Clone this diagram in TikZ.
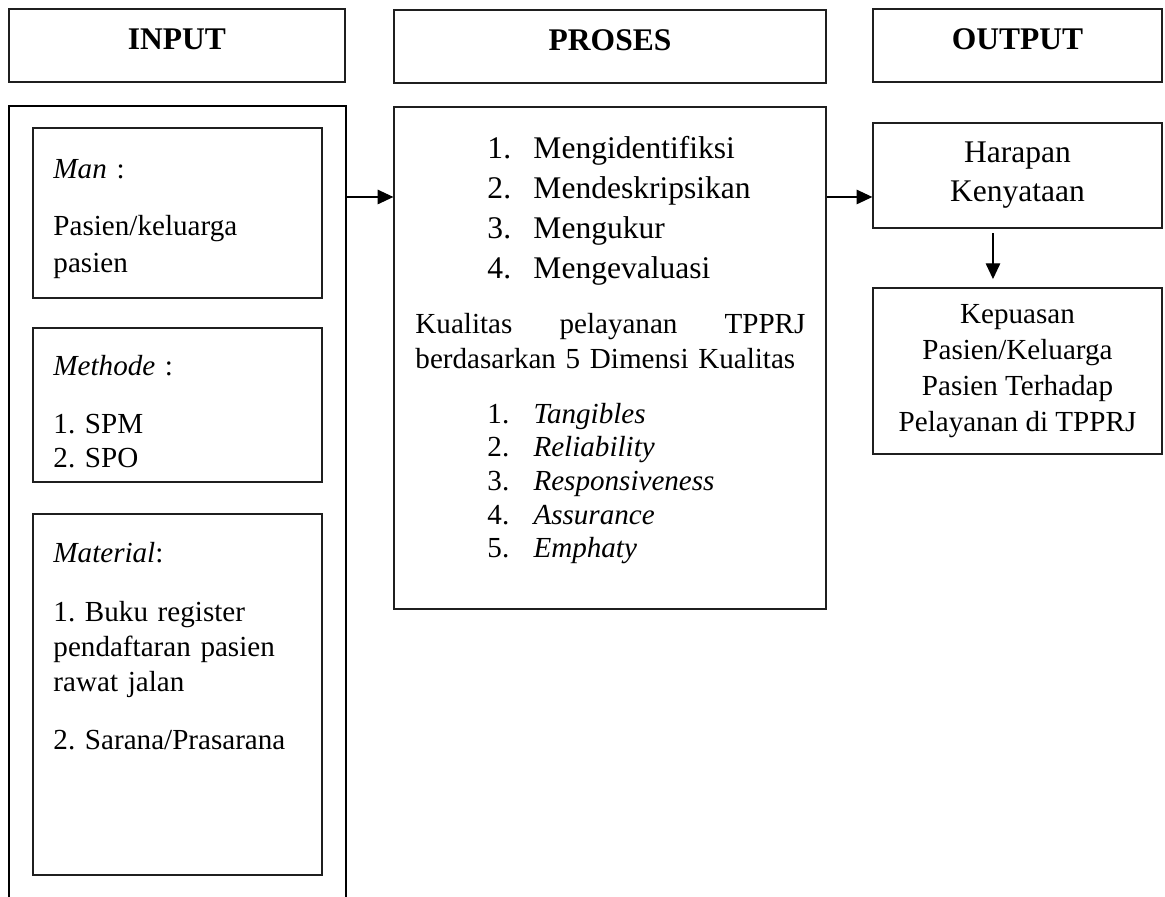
\documentclass[tikz,border=0pt]{standalone}
\usepackage{fontspec}
\setmainfont{Liberation Serif}
\usetikzlibrary{arrows.meta, positioning, calc}
\definecolor{Ink}    {HTML}{000000}
\definecolor{BoxLine}{HTML}{1F1F1F}
\tikzset{
  flow arrow/.style={-{Triangle[length=6.5pt,width=6pt]}, line width=0.5pt, Ink},
}
\frenchspacing

\begin{document}
\begin{tikzpicture}[font=\fontsize{12}{14.4}\selectfont,
    head/.style={draw=BoxLine, line width=0.55pt, minimum height=1.058cm,
                 inner sep=0pt, text depth=5pt, font=\fontsize{13}{15}\selectfont\bfseries},
    box/.style={draw=BoxLine, line width=0.55pt, inner sep=0pt, minimum width=4.188cm},
    frame/.style={draw=Ink, line width=1pt, inner sep=0pt},
    txt/.style={inner sep=0pt, align=left, anchor=base west},
    ctxt/.style={align=center}]
  \useasboundingbox (0,0) rectangle (16.884,-13.0);
  \clip (0,0) rectangle (16.884,-13.0);
  % Headers
  \node[head, minimum width=4.870cm] (input)   at (2.565,-0.659)  {INPUT};
  \node[head, minimum width=6.261cm] (process) at (8.841,-0.674)  {PROSES};
  \node[head, minimum width=4.188cm] (output)  at (14.746,-0.659) {OUTPUT};
  % Input column
  \node[frame, minimum width=4.884cm, minimum height=11.964cm] (inframe) at (2.572,-7.518) {};
  \node[box, minimum height=2.464cm] (man)      at (2.572,-3.087)  {};
  \node[box, minimum height=2.232cm] (method)   at (2.572,-5.870)  {};
  \node[box, minimum height=5.232cm] (material) at (2.572,-10.065) {};
  \node[txt, text width=3.8cm, font=\fontsize{12}{15.3}\selectfont] (mantxt) at (0.768,-2.580)
    {\textit{Man} :\\[8.2pt] Pasien/keluarga\\ pasien};
  \node[txt, text width=3.8cm, font=\fontsize{12}{14}\selectfont] (methtxt) at (0.768,-5.440)
    {\textit{Methode} :\\[9.9pt] 1. SPM\\ 2. SPO};
  \node[txt, text width=3.8cm, font=\fontsize{12}{14.4}\selectfont] (mattxt) at (0.768,-8.159)
    {\textit{Material}:\\[9.9pt] 1. Buku register\\ pendaftaran pasien\\ rawat jalan\\[9.5pt]
     2. Sarana/Prasarana};
  % Process column
  \node[box, minimum width=6.261cm, minimum height=7.275cm] (proses) at (8.841,-5.188) {};
  \node[txt, text width=4.5cm, font=\fontsize{13}{16.5}\selectfont] (steps) at (7.058,-2.300)
    {\makebox[0.667cm][l]{1.}Mengidentifiksi\\
     \makebox[0.667cm][l]{2.}Mendeskripsikan\\
     \makebox[0.667cm][l]{3.}Mengukur\\
     \makebox[0.667cm][l]{4.}Mengevaluasi};
  \node[txt, text width=5.652cm] (kualitas) at (6.014,-4.830)
    {Kualitas\hfill pelayanan\hfill TPPRJ\\ berdasarkan 5 Dimensi Kualitas};
  \node[txt, text width=4.5cm, font=\fontsize{12}{13.9}\selectfont] (dims) at (7.058,-6.131)
    {\makebox[0.667cm][l]{1.}\textit{Tangibles}\\
     \makebox[0.667cm][l]{2.}\textit{Reliability}\\
     \makebox[0.667cm][l]{3.}\textit{Responsiveness}\\
     \makebox[0.667cm][l]{4.}\textit{Assurance}\\
     \makebox[0.667cm][l]{5.}\textit{Emphaty}};
  % Output column
  \node[box, ctxt, minimum height=1.522cm, font=\fontsize{13}{16.1}\selectfont] (harapan)
    at (14.746,-2.543) {Harapan\\ Kenyataan};
  \node[box, ctxt, minimum height=2.406cm, font=\fontsize{12}{14.9}\selectfont] (kepuasan)
    at (14.746,-5.377) {Kepuasan\\ Pasien/Keluarga\\ Pasien Terhadap\\ Pelayanan di TPPRJ};
  % Arrows
  \coordinate (flowline) at (0,-2.855);
  \draw[flow arrow] (inframe.east |- flowline) -- (proses.west |- flowline);
  \draw[flow arrow] (proses.east |- flowline)  -- (harapan.west |- flowline);
  \draw[flow arrow, shorten <=0.07cm, shorten >=0.12cm]
    ([xshift=-0.355cm]harapan.south) -- ([xshift=-0.355cm]kepuasan.north);
\end{tikzpicture}
\end{document}
